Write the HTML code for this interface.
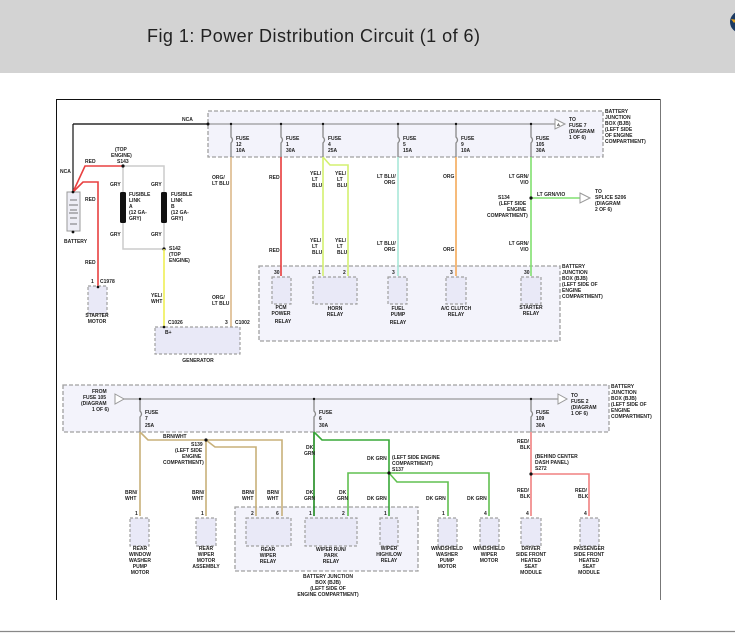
<!DOCTYPE html>
<html><head><meta charset="utf-8"><style>
html,body{margin:0;padding:0;background:#fff;width:735px;height:633px;overflow:hidden}
svg{display:block}
.t{font-family:"Liberation Sans",sans-serif;font-size:5px;font-weight:bold;fill:#222}
.h{font-family:"Liberation Sans",sans-serif;font-size:18px;fill:#222}
.box{fill:#f3f3fb;stroke:#a0a0a0;stroke-width:1.3;stroke-dasharray:4,2}
.rl{fill:#e9e9f7;stroke:#a0a0a0;stroke-width:1.2;stroke-dasharray:3,2}
.w{fill:none;stroke-width:1.6}
</style></head><body>
<svg width="735" height="633" viewBox="0 0 735 633">
<rect x="0" y="0" width="735" height="73" fill="#d3d3d3"/>
<text class="h" x="147" y="42" textLength="333">Fig 1: Power Distribution Circuit (1 of 6)</text>
<circle cx="741" cy="22" r="11" fill="#1d3b63"/>
<path d="M731 19 l6 1 -3 3z" fill="#e8a21a"/>
<line x1="0" y1="631.5" x2="735" y2="631.5" stroke="#888" stroke-width="1.2"/>
<!-- frame -->
<line x1="56.5" y1="99" x2="56.5" y2="600" stroke="#111" stroke-width="1"/>
<line x1="56" y1="99.5" x2="661" y2="99.5" stroke="#111" stroke-width="1"/>
<line x1="660.5" y1="99" x2="660.5" y2="600" stroke="#777" stroke-width="1"/>

<!-- top junction box -->
<rect class="box" x="208" y="111" width="395" height="46"/>
<rect class="box" x="259" y="266" width="301" height="75"/>
<line x1="73" y1="124" x2="555" y2="124" stroke="#999" stroke-width="1.3"/>
<line x1="73" y1="124" x2="208" y2="124" stroke="#111" stroke-width="1.2"/>
<line x1="73" y1="124" x2="73" y2="192" stroke="#111" stroke-width="1.2"/>
<circle cx="208" cy="124" r="1.5" fill="#111"/>
<text class="t" x="182" y="121">NCA</text>
<text class="t" x="60" y="173">NCA</text>
<polygon points="555,119 565,124 555,129" fill="#fff" stroke="#999"/>
<text class="t" x="557" y="126" style="font-size:4px">A</text>
<text class="t" x="569" y="121">TO</text><text class="t" x="569" y="127">FUSE 7</text><text class="t" x="569" y="133">(DIAGRAM</text><text class="t" x="569" y="139">1 OF 6)</text>
<text class="t" x="605" y="113">BATTERY</text><text class="t" x="605" y="119">JUNCTION</text><text class="t" x="605" y="125">BOX (BJB)</text><text class="t" x="605" y="131">(LEFT SIDE</text><text class="t" x="605" y="137">OF ENGINE</text><text class="t" x="605" y="143">COMPARTMENT)</text>

<!-- fuses top -->
<g stroke="#888" stroke-width="1.3" fill="none">
<path d="M231 124 v13 q3 3 0 6 v14"/><path d="M281 124 v13 q3 3 0 6 v14"/><path d="M323 124 v13 q3 3 0 6 v14"/>
<path d="M398 124 v13 q3 3 0 6 v14"/><path d="M456 124 v13 q3 3 0 6 v14"/><path d="M531 124 v13 q3 3 0 6 v14"/>
</g>
<g fill="#111"><circle cx="231" cy="124" r="1.2"/><circle cx="281" cy="124" r="1.2"/><circle cx="323" cy="124" r="1.2"/><circle cx="398" cy="124" r="1.2"/><circle cx="456" cy="124" r="1.2"/><circle cx="531" cy="124" r="1.2"/></g>
<text class="t" x="236" y="140">FUSE</text><text class="t" x="236" y="146">12</text><text class="t" x="236" y="152">10A</text>
<text class="t" x="286" y="140">FUSE</text><text class="t" x="286" y="146">1</text><text class="t" x="286" y="152">30A</text>
<text class="t" x="328" y="140">FUSE</text><text class="t" x="328" y="146">4</text><text class="t" x="328" y="152">25A</text>
<text class="t" x="403" y="140">FUSE</text><text class="t" x="403" y="146">5</text><text class="t" x="403" y="152">15A</text>
<text class="t" x="461" y="140">FUSE</text><text class="t" x="461" y="146">9</text><text class="t" x="461" y="152">10A</text>
<text class="t" x="536" y="140">FUSE</text><text class="t" x="536" y="146">105</text><text class="t" x="536" y="152">30A</text>

<!-- top wires -->
<path class="w" d="M231 157 V327" stroke="#dcb98a"/>
<path class="w" d="M281 157 V276" stroke="#e83a3a"/>
<path class="w" d="M323 157 V276" stroke="#d4f070"/>
<path class="w" d="M323 157 L330 165 H348 V276" stroke="#d4f070"/>
<path class="w" d="M398 157 V276" stroke="#a8e8d8"/>
<path class="w" d="M456 157 V276" stroke="#f4aa5a"/>
<path class="w" d="M531 157 V276" stroke="#80e070"/>
<path class="w" d="M531 198 H580" stroke="#80e070"/>
<circle cx="531" cy="198" r="1.6" fill="#111"/>
<polygon points="580,193 590,198 580,203" fill="#fff" stroke="#999"/>
<text class="t" x="595" y="193">TO</text><text class="t" x="595" y="199">SPLICE S206</text><text class="t" x="595" y="205">(DIAGRAM</text><text class="t" x="595" y="211">2 OF 6)</text>
<text class="t" x="537" y="196">LT GRN/VIO</text>
<text class="t" x="498" y="199" text-anchor="start">S134</text>
<text class="t" x="499" y="205">(LEFT SIDE</text><text class="t" x="507" y="211">ENGINE</text><text class="t" x="487" y="217">COMPARTMENT)</text>
<text class="t" x="212" y="179">ORG/</text><text class="t" x="212" y="185">LT BLU</text>
<text class="t" x="212" y="299">ORG/</text><text class="t" x="212" y="305">LT BLU</text>
<text class="t" x="269" y="179">RED</text><text class="t" x="269" y="252">RED</text>
<text class="t" x="310" y="175">YEL/</text><text class="t" x="312" y="181">LT</text><text class="t" x="312" y="187">BLU</text>
<text class="t" x="335" y="175">YEL/</text><text class="t" x="337" y="181">LT</text><text class="t" x="337" y="187">BLU</text>
<text class="t" x="310" y="242">YEL/</text><text class="t" x="312" y="248">LT</text><text class="t" x="312" y="254">BLU</text>
<text class="t" x="335" y="242">YEL/</text><text class="t" x="337" y="248">LT</text><text class="t" x="337" y="254">BLU</text>
<text class="t" x="377" y="178">LT BLU/</text><text class="t" x="384" y="184">ORG</text>
<text class="t" x="377" y="245">LT BLU/</text><text class="t" x="384" y="251">ORG</text>
<text class="t" x="443" y="178">ORG</text><text class="t" x="443" y="251">ORG</text>
<text class="t" x="509" y="178">LT GRN/</text><text class="t" x="520" y="184">VIO</text>
<text class="t" x="509" y="245">LT GRN/</text><text class="t" x="520" y="251">VIO</text>

<!-- relays top -->
<rect class="rl" x="272" y="277" width="19" height="27"/>
<rect class="rl" x="313" y="277" width="44" height="27"/>
<rect class="rl" x="388" y="277" width="19" height="27"/>
<rect class="rl" x="446" y="277" width="20" height="27"/>
<rect class="rl" x="521" y="277" width="20" height="27"/>
<text class="t" x="274" y="274">30</text><text class="t" x="318" y="274">1</text><text class="t" x="343" y="274">2</text><text class="t" x="392" y="274">3</text><text class="t" x="450" y="274">3</text><text class="t" x="524" y="274">30</text>
<text class="t" x="281" y="309" text-anchor="middle">PCM</text><text class="t" x="281" y="315" text-anchor="middle">POWER</text><text class="t" x="283" y="323" text-anchor="middle">RELAY</text>
<text class="t" x="335" y="310" text-anchor="middle">HORN</text><text class="t" x="335" y="316" text-anchor="middle">RELAY</text>
<text class="t" x="398" y="310" text-anchor="middle">FUEL</text><text class="t" x="398" y="316" text-anchor="middle">PUMP</text><text class="t" x="398" y="324" text-anchor="middle">RELAY</text>
<text class="t" x="456" y="310" text-anchor="middle">A/C CLUTCH</text><text class="t" x="456" y="316" text-anchor="middle">RELAY</text>
<text class="t" x="531" y="309" text-anchor="middle">STARTER</text><text class="t" x="531" y="315" text-anchor="middle">RELAY</text>
<text class="t" x="562" y="268">BATTERY</text><text class="t" x="562" y="274">JUNCTION</text><text class="t" x="562" y="280">BOX (BJB)</text><text class="t" x="562" y="286">(LEFT SIDE OF</text><text class="t" x="562" y="292">ENGINE</text><text class="t" x="562" y="298">COMPARTMENT)</text>

<!-- battery / fusible links -->
<path class="w" d="M73 192 L85 166 H123" stroke="#e84040"/>
<path class="w" d="M73 192 L83 182 H98 V287" stroke="#e84040"/>
<path d="M123 166 H164 V249 H123 Z" fill="none" stroke="#ccc" stroke-width="1.5"/>
<rect x="120" y="192" width="6" height="31" rx="1.5" fill="#111"/>
<rect x="161" y="192" width="6" height="31" rx="1.5" fill="#111"/>
<circle cx="123" cy="166" r="1.6" fill="#111"/><circle cx="164" cy="249" r="1.6" fill="#111"/>
<path class="w" d="M164 249 V327" stroke="#eeee55"/>
<rect x="67" y="192" width="13" height="39" fill="#eeeef6" stroke="#999"/>
<g stroke="#555" stroke-width="0.8"><line x1="70" y1="200" x2="77" y2="200"/><line x1="69" y1="205" x2="78" y2="205"/><line x1="70" y1="210" x2="77" y2="210"/><line x1="69" y1="213" x2="78" y2="213"/><line x1="70" y1="218" x2="77" y2="218"/><line x1="70" y1="224" x2="77" y2="224"/></g>
<circle cx="73" cy="192" r="1.4" fill="#111"/><circle cx="73" cy="232" r="1.4" fill="#111"/>
<text class="t" x="64" y="243">BATTERY</text>
<text class="t" x="85" y="163">RED</text><text class="t" x="85" y="201">RED</text><text class="t" x="85" y="264">RED</text>
<text class="t" x="115" y="151">(TOP</text><text class="t" x="111" y="157">ENGINE)</text><text class="t" x="117" y="163">S143</text>
<text class="t" x="110" y="186">GRY</text><text class="t" x="151" y="186">GRY</text><text class="t" x="110" y="236">GRY</text><text class="t" x="151" y="236">GRY</text>
<text class="t" x="129" y="196">FUSIBLE</text><text class="t" x="129" y="202">LINK</text><text class="t" x="129" y="208">A</text><text class="t" x="129" y="214">(12 GA-</text><text class="t" x="129" y="220">GRY)</text>
<text class="t" x="171" y="196">FUSIBLE</text><text class="t" x="171" y="202">LINK</text><text class="t" x="171" y="208">B</text><text class="t" x="171" y="214">(12 GA-</text><text class="t" x="171" y="220">GRY)</text>
<text class="t" x="169" y="250">S142</text><text class="t" x="169" y="256">(TOP</text><text class="t" x="169" y="262">ENGINE)</text>
<text class="t" x="151" y="297">YEL/</text><text class="t" x="151" y="303">WHT</text>
<rect class="rl" x="88" y="286" width="19" height="28"/>
<circle cx="98" cy="287" r="1.3" fill="#111"/>
<text class="t" x="91" y="283">1</text><text class="t" x="100" y="283">C1978</text>
<text class="t" x="97" y="317" text-anchor="middle">STARTER</text><text class="t" x="97" y="323" text-anchor="middle">MOTOR</text>
<rect class="rl" x="155" y="327" width="85" height="27"/>
<circle cx="164" cy="327" r="1.3" fill="#111"/>
<text class="t" x="168" y="324">C1026</text><text class="t" x="165" y="334">B+</text>
<text class="t" x="225" y="324">3</text><text class="t" x="235" y="324">C1002</text>
<text class="t" x="198" y="362" text-anchor="middle">GENERATOR</text>

<!-- lower section -->
<rect class="box" x="63" y="385" width="546" height="47"/>
<rect class="box" x="235" y="507" width="183" height="64"/>
<line x1="122" y1="399" x2="558" y2="399" stroke="#999" stroke-width="1.3"/>
<polygon points="115,394 124,399 115,404" fill="#fff" stroke="#999"/>
<polygon points="558,394 567,399 558,404" fill="#fff" stroke="#999"/>
<text class="t" x="92" y="393">FROM</text><text class="t" x="83" y="399">FUSE 105</text><text class="t" x="81" y="405">(DIAGRAM</text><text class="t" x="92" y="411">1 OF 6)</text>
<text class="t" x="571" y="397">TO</text><text class="t" x="571" y="403">FUSE 2</text><text class="t" x="571" y="409">(DIAGRAM</text><text class="t" x="571" y="415">1 OF 6)</text>
<text class="t" x="611" y="388">BATTERY</text><text class="t" x="611" y="394">JUNCTION</text><text class="t" x="611" y="400">BOX (BJB)</text><text class="t" x="611" y="406">(LEFT SIDE OF</text><text class="t" x="611" y="412">ENGINE</text><text class="t" x="611" y="418">COMPARTMENT)</text>
<g stroke="#888" stroke-width="1.3" fill="none">
<path d="M140 399 v12 q3 3 0 6 v15"/><path d="M314 399 v12 q3 3 0 6 v15"/><path d="M531 399 v12 q3 3 0 6 v15"/>
</g>
<g fill="#111"><circle cx="140" cy="399" r="1.2"/><circle cx="314" cy="399" r="1.2"/><circle cx="531" cy="399" r="1.2"/></g>
<text class="t" x="145" y="414">FUSE</text><text class="t" x="145" y="420">7</text><text class="t" x="145" y="427">25A</text>
<text class="t" x="319" y="414">FUSE</text><text class="t" x="319" y="420">6</text><text class="t" x="319" y="427">30A</text>
<text class="t" x="536" y="414">FUSE</text><text class="t" x="536" y="420">109</text><text class="t" x="536" y="427">30A</text>

<path class="w" d="M140 432 V516" stroke="#c8b07a"/>
<path class="w" d="M140 432 L148 440 H282 V516" stroke="#c8b07a"/>
<path class="w" d="M206 440 V516" stroke="#c8b07a"/>
<path class="w" d="M206 440 L215 447 H256 V516" stroke="#c8b07a"/>
<circle cx="206" cy="440" r="1.6" fill="#111"/>
<text class="t" x="163" y="438">BRN/WHT</text>
<text class="t" x="191" y="446">S139</text><text class="t" x="175" y="452">(LEFT SIDE</text><text class="t" x="182" y="458">ENGINE</text><text class="t" x="163" y="464">COMPARTMENT)</text>
<text class="t" x="125" y="494">BRN/</text><text class="t" x="125" y="500">WHT</text>
<text class="t" x="192" y="494">BRN/</text><text class="t" x="192" y="500">WHT</text>
<text class="t" x="242" y="494">BRN/</text><text class="t" x="242" y="500">WHT</text>
<text class="t" x="267" y="494">BRN/</text><text class="t" x="267" y="500">WHT</text>

<path class="w" d="M314 432 V516" stroke="#1e8a1e"/>
<path class="w" d="M314 432 L322 440 H389 V516" stroke="#38a838"/>
<path class="w" d="M389 473 H348 V516" stroke="#60c050"/>
<path class="w" d="M389 473 H489 V516" stroke="#60c050"/>
<path class="w" d="M389 473 L397 482 H448 V516" stroke="#60c050"/>
<circle cx="389" cy="473" r="1.6" fill="#111"/>
<text class="t" x="306" y="449">DK</text><text class="t" x="304" y="455">GRN</text>
<text class="t" x="306" y="494">DK</text><text class="t" x="304" y="500">GRN</text>
<text class="t" x="339" y="494">DK</text><text class="t" x="337" y="500">GRN</text>
<text class="t" x="367" y="460">DK GRN</text><text class="t" x="367" y="500">DK GRN</text>
<text class="t" x="392" y="459">(LEFT SIDE ENGINE</text><text class="t" x="392" y="465">COMPARTMENT)</text><text class="t" x="392" y="471">S137</text>
<text class="t" x="426" y="500">DK GRN</text><text class="t" x="467" y="500">DK GRN</text>

<path class="w" d="M531 432 V516" stroke="#f08080"/>
<path class="w" d="M531 474 H589 V516" stroke="#f08080"/>
<circle cx="531" cy="474" r="1.6" fill="#111"/>
<text class="t" x="517" y="443">RED/</text><text class="t" x="520" y="449">BLK</text>
<text class="t" x="535" y="458">(BEHIND CENTER</text><text class="t" x="535" y="464">DASH PANEL)</text><text class="t" x="535" y="470">S272</text>
<text class="t" x="517" y="492">RED/</text><text class="t" x="520" y="498">BLK</text>
<text class="t" x="575" y="492">RED/</text><text class="t" x="578" y="498">BLK</text>

<rect class="rl" x="130" y="518" width="19" height="28"/>
<rect class="rl" x="196" y="518" width="20" height="28"/>
<rect class="rl" x="246" y="518" width="45" height="28"/>
<rect class="rl" x="305" y="518" width="52" height="28"/>
<rect class="rl" x="380" y="518" width="18" height="28"/>
<rect class="rl" x="438" y="518" width="19" height="28"/>
<rect class="rl" x="480" y="518" width="19" height="28"/>
<rect class="rl" x="521" y="518" width="20" height="28"/>
<rect class="rl" x="580" y="518" width="19" height="28"/>
<text class="t" x="135" y="515">1</text><text class="t" x="201" y="515">1</text><text class="t" x="251" y="515">2</text><text class="t" x="276" y="515">6</text><text class="t" x="309" y="515">1</text><text class="t" x="342" y="515">2</text><text class="t" x="384" y="515">1</text><text class="t" x="442" y="515">1</text><text class="t" x="484" y="515">4</text><text class="t" x="526" y="515">4</text><text class="t" x="584" y="515">4</text>
<g class="t" text-anchor="middle">
<text x="140" y="550">REAR</text><text x="140" y="556">WINDOW</text><text x="140" y="562">WASHER</text><text x="140" y="568">PUMP</text><text x="140" y="574">MOTOR</text>
<text x="206" y="550">REAR</text><text x="206" y="556">WIPER</text><text x="206" y="562">MOTOR</text><text x="206" y="568">ASSEMBLY</text>
<text x="268" y="551">REAR</text><text x="268" y="557">WIPER</text><text x="268" y="563">RELAY</text>
<text x="331" y="551">WIPER RUN/</text><text x="331" y="557">PARK</text><text x="331" y="563">RELAY</text>
<text x="389" y="550">WIPER</text><text x="389" y="556">HIGH/LOW</text><text x="389" y="562">RELAY</text>
<text x="447" y="550">WINDSHIELD</text><text x="447" y="556">WASHER</text><text x="447" y="562">PUMP</text><text x="447" y="568">MOTOR</text>
<text x="489" y="550">WINDSHIELD</text><text x="489" y="556">WIPER</text><text x="489" y="562">MOTOR</text>
<text x="531" y="550">DRIVER</text><text x="531" y="556">SIDE FRONT</text><text x="531" y="562">HEATED</text><text x="531" y="568">SEAT</text><text x="531" y="574">MODULE</text>
<text x="589" y="550">PASSENGER</text><text x="589" y="556">SIDE FRONT</text><text x="589" y="562">HEATED</text><text x="589" y="568">SEAT</text><text x="589" y="574">MODULE</text>
<text x="328" y="578">BATTERY JUNCTION</text><text x="328" y="584">BOX (BJB)</text><text x="328" y="590">(LEFT SIDE OF</text><text x="328" y="596">ENGINE COMPARTMENT)</text>
</g>
</svg>
</body></html>
